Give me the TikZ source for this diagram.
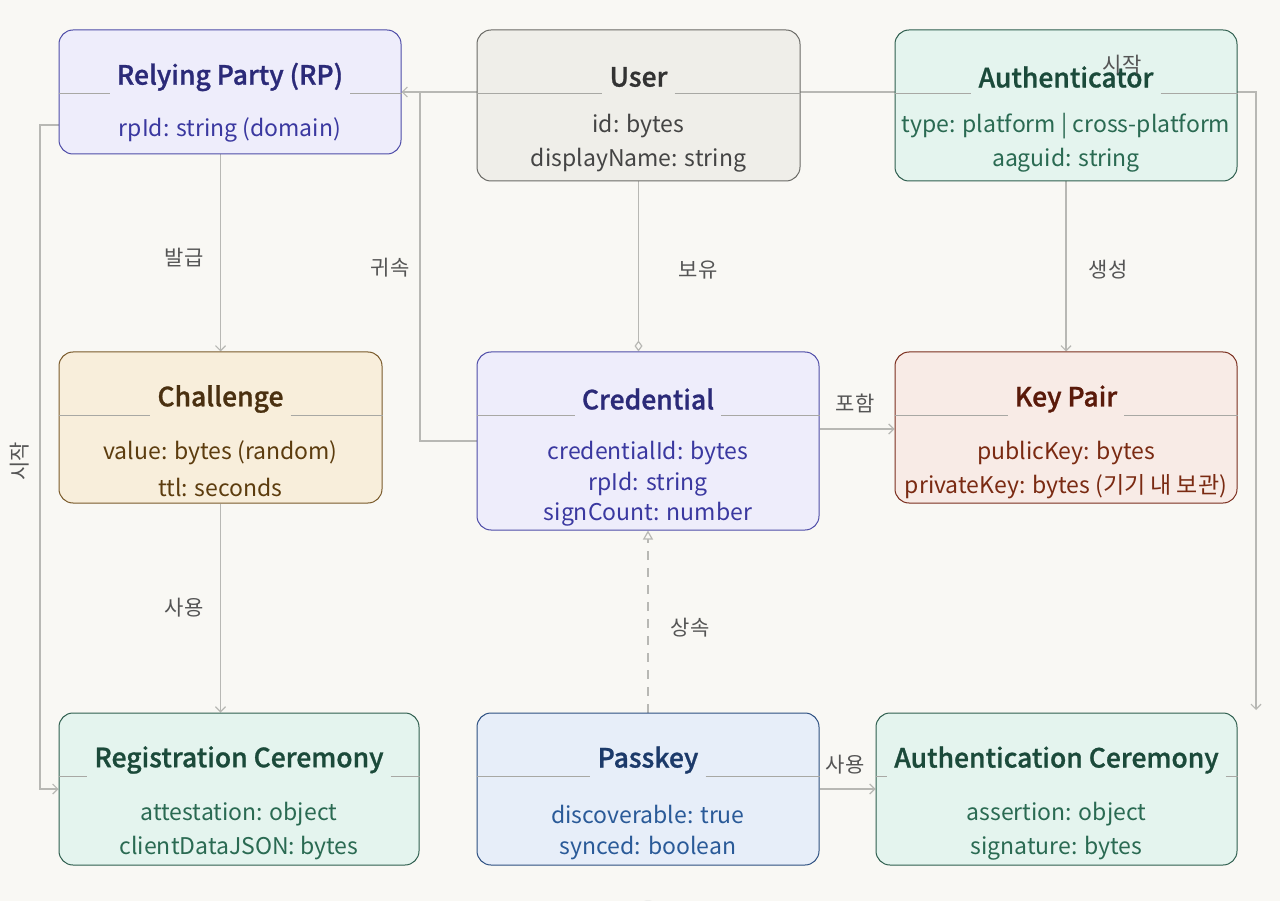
\documentclass[tikz,border=0pt]{standalone}
\usepackage{fontspec}
\setmainfont{Noto Sans CJK KR}
\newfontface\medfont{Noto Sans CJK KR Medium}[FakeBold=1]
\usetikzlibrary{arrows.meta}
\definecolor{bgc}{HTML}{F9F8F4}
\definecolor{conngray}{HTML}{B8B8B4}
\definecolor{sepgray}{HTML}{A8A8A4}
\definecolor{lblgray}{HTML}{555555}
% RP / Credential
\definecolor{rpfill}{HTML}{EEEDFB}\definecolor{rpdraw}{HTML}{4E4CA8}
\definecolor{rpttl}{HTML}{2B2A78}\definecolor{rptxt}{HTML}{3A38A0}
% User
\definecolor{usfill}{HTML}{EFEEE9}\definecolor{usdraw}{HTML}{6A6A66}
\definecolor{usttl}{HTML}{333333}\definecolor{ustxt}{HTML}{444444}
% green
\definecolor{gnfill}{HTML}{E4F4EE}\definecolor{gndraw}{HTML}{2E5E4E}
\definecolor{gnttl}{HTML}{1B4A3A}\definecolor{gntxt}{HTML}{2A6A52}
% challenge
\definecolor{chfill}{HTML}{F8EEDB}\definecolor{chdraw}{HTML}{7A5A2A}
\definecolor{chttl}{HTML}{4A3010}\definecolor{chtxt}{HTML}{5C3C0E}
% key pair
\definecolor{kpfill}{HTML}{F8EBE6}\definecolor{kpdraw}{HTML}{7B2E1E}
\definecolor{kpttl}{HTML}{5A1A0A}\definecolor{kptxt}{HTML}{7A2A12}
% passkey
\definecolor{pkfill}{HTML}{E7EEF9}\definecolor{pkdraw}{HTML}{2C4F80}
\definecolor{pkttl}{HTML}{1C3A6A}\definecolor{pktxt}{HTML}{2A5A98}
\pgfdeclarelayer{bglayer}\pgfdeclarelayer{edges}
\pgfsetlayers{bglayer,edges,main}
% name, center x, top y, width, height, colour prefix, title
\newcommand\mkbox[7]{%
  \node[box, fill=#6fill, draw=#6draw, minimum width=#4pt, minimum height=#5pt] (#1) at (#2,{#3+#5/2}) {};
  \node[ttl, text=#6ttl] (#1t) at (#2,{#3+47}) {#7};
  \draw[sep] (#1.west |- 0,{#3+63}) -- (#1t.west |- 0,{#3+63});
  \draw[sep] (#1t.east |- 0,{#3+63}) -- (#1.east |- 0,{#3+63});
}
\begin{document}
\begin{tikzpicture}[x=1pt,y=-1pt,
  box/.style={rounded corners=14pt, line width=1pt, inner sep=0pt},
  ttl/.style={font=\fontsize{26.5}{31}\medfont, inner xsep=7pt, inner ysep=0pt},
  attr/.style={font=\fontsize{23}{27}\selectfont, inner sep=0pt, yshift=-2pt},
  sep/.style={draw=sepgray, line width=0.9pt},
  conn/.style={draw=conngray, line width=1.3pt, -{Straight Barb[length=5pt,width=10pt,line width=1.2pt]}},
  lbl/.style={font=\fontsize{21}{25}\selectfont, text=lblgray, inner sep=2pt}]
\begin{pgfonlayer}{bglayer}
\fill[bgc] (0,0) rectangle (1280,901);
\end{pgfonlayer}
\useasboundingbox (0,0) rectangle (1280,901);

% boxes
\mkbox{rp}{230}{30}{342}{124}{rp}{Relying Party (RP)}
\node[attr, text=rptxt] at (230,128) {rpId: string (domain)};

\mkbox{user}{638.5}{30}{323}{151}{us}{User}
\node[attr, text=ustxt] at (638.5,124) {id: bytes};
\node[attr, text=ustxt] at (638.5,158) {displayName: string};

\mkbox{auth}{1066}{30}{342}{151}{gn}{Authenticator}
\node[attr, text=gntxt] at (1066,124) {type: platform | cross-platform};
\node[attr, text=gntxt] at (1066,158) {aaguid: string};

\mkbox{chal}{220.5}{352}{323}{151}{ch}{Challenge}
\node[attr, text=chtxt] at (220.5,451) {value: bytes (random)};
\node[attr, text=chtxt] at (220.5,485) {ttl: seconds};

\mkbox{cred}{648}{352}{342}{178}{rp}{Credential}
\node[attr, text=rptxt] at (648,451) {credentialId: bytes};
\node[attr, text=rptxt] at (648,482) {rpId: string};
\node[attr, text=rptxt] at (648,512) {signCount: number};

\mkbox{kp}{1066}{352}{342}{151}{kp}{Key Pair}
\node[attr, text=kptxt] at (1066,451) {publicKey: bytes};
\node[attr, text=kptxt] at (1066,485) {privateKey: bytes (기기 내 보관)};

\mkbox{reg}{239}{713}{360}{152}{gn}{Registration Ceremony}
\node[attr, text=gntxt] at (239,812) {attestation: object};
\node[attr, text=gntxt] at (239,846) {clientDataJSON: bytes};

\mkbox{pk}{648}{713}{342}{152}{pk}{Passkey}
\node[attr, text=pktxt] at (648,812) {discoverable: true};
\node[attr, text=pktxt] at (648,846) {synced: boolean};

\mkbox{authc}{1056.5}{713}{361}{152}{gn}{Authentication Ceremony}
\node[attr, text=gntxt] at (1056.5,812) {assertion: object};
\node[attr, text=gntxt] at (1056.5,846) {signature: bytes};

% connectors
\coordinate (ae) at (1256,710);
\begin{pgfonlayer}{edges}
\draw[conn] (rp.west |- 0,125) -- (40,125) |- (reg.west);
\draw[conn] (rp.east) -| (ae);
\draw[conn] (cred.west) -- (420,441) |- (rp.east);
\draw[conn] (chal.north |- rp.south) -- (chal.north);
\draw[draw=conngray, line width=1.3pt, -{Diamond[open,length=11pt,width=8pt,line width=1.2pt]}] (user.south) -- (user.south |- cred.north);
\draw[conn] (auth.south) -- (kp.north);
\draw[conn] (chal.south) -- (chal.south |- reg.north);
\draw[conn] (cred.east |- 0,429) -- (kp.west |- 0,429);
\draw[draw=conngray, line width=1.3pt, dash pattern=on 9pt off 8pt, -{Triangle[open,length=9pt,width=10pt,line width=1.2pt]}] (pk.north) -- (cred.south);
\draw[conn] (pk.east) -- (authc.west);
\draw[draw=black!15, line width=1pt] (648,915) circle (14pt);
\end{pgfonlayer}

% labels
\node[lbl] (l1) at (184,258) {발급};
\node[lbl] (l2) at (390,268) {귀속};
\node[lbl] (l3) at (698,270) {보유};
\node[lbl] (l4) at (1108,270) {생성};
\node[lbl] (l5) at (855,403) {포함};
\node[lbl] (l6) at (184,608) {사용};
\node[lbl] (l7) at (690,628) {상속};
\node[lbl] (l8) at (845,765) {사용};
\node[lbl] (l9) at (1122,65) {시작};
\node[lbl, fill=bgc, rotate=90, inner ysep=1pt, inner xsep=6pt] (l10) at (20,461) {시작};
\end{tikzpicture}
\end{document}
